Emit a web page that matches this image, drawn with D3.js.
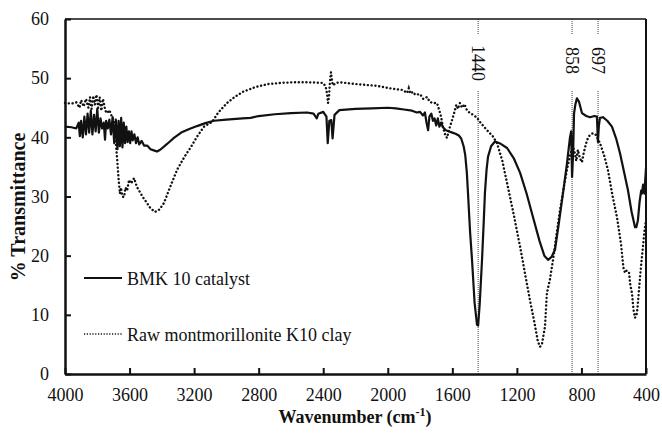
<!DOCTYPE html>
<html><head><meta charset="utf-8">
<script src="https://cdn.jsdelivr.net/npm/d3@7"></script>
<style>body{margin:0;background:#fff}svg{display:block}svg text{font-family:"Times New Roman","Liberation Serif","DejaVu Serif","Noto Serif",serif !important;fill:#111}</style>
</head><body><svg id="c" width="662" height="433"></svg>
<script>
const xTicks=[4000,3600,3200,2800,2400,2000,1600,1200,800,400];
const yTicks=[0,10,20,30,40,50,60];
const markers=[1440,858,697];
const seriesNames=["BMK 10 catalyst","Raw montmorillonite K10 clay"];
const bmk=[[4000,41.8],[3960,41.7],[3930,41.5],[3915,42.5],[3908,40.2],[3900,42.8],[3890,40],[3880,43.5],[3870,40.5],[3860,44],[3850,40.8],[3840,44.5],[3830,40.5],[3820,43.8],[3810,41],[3800,44.8],[3790,40.8],[3780,43.2],[3770,41.5],[3760,42.5],[3752,39.6],[3745,42.8],[3735,41.5],[3725,43],[3715,40.5],[3705,43.4],[3695,39],[3685,43],[3675,38],[3668,42.8],[3660,38.5],[3652,43.3],[3644,38.3],[3636,42.5],[3628,39],[3620,41.8],[3612,39.2],[3604,41],[3596,39],[3588,41],[3580,39.5],[3570,40.5],[3560,39],[3550,40],[3540,38.8],[3525,39.4],[3510,38.6],[3490,38.6],[3470,38],[3450,37.8],[3430,37.6],[3410,37.9],[3380,38.6],[3350,39.3],[3325,39.9],[3280,40.8],[3230,41.4],[3182,41.9],[3130,42.4],[3077,42.8],[3000,43],[2900,43.2],[2850,43.3],[2800,43.6],[2700,43.9],[2600,44.1],[2500,44.2],[2460,44],[2440,43.2],[2430,44],[2400,44.3],[2380,43.5],[2372,39],[2362,42.8],[2350,42.9],[2342,39.8],[2330,43.8],[2300,44.6],[2200,44.8],[2100,44.9],[2000,45],[1950,44.9],[1900,44.7],[1850,44.5],[1820,44.2],[1800,44.3],[1782,43.7],[1770,44.2],[1760,42.5],[1750,41.2],[1742,43.5],[1730,44],[1720,42.8],[1710,43.2],[1700,42],[1690,43.2],[1680,41.8],[1670,42.5],[1658,41.7],[1640,41.2],[1620,41],[1600,40.8],[1580,40.6],[1560,40.3],[1545,39.8],[1530,38.5],[1520,37],[1510,34],[1503,30.6],[1490,24],[1478,19.3],[1462,12],[1447,8.3],[1440,8.2],[1430,12],[1416,19.3],[1405,26],[1398,30.6],[1388,34.5],[1379,36.7],[1360,38.5],[1336,39.3],[1300,38.9],[1261,38.2],[1220,36.5],[1180,34],[1140,30.5],[1100,26.5],[1060,22.5],[1030,20],[1007,19.3],[985,19.8],[964,21],[940,25.5],[914,30.6],[890,35.5],[871,40],[864,41],[858,33.3],[852,37],[846,44],[838,45.5],[828,46.6],[815,46],[797,44.1],[770,43.6],[747,43.4],[720,43.6],[704,43.5],[698,39.2],[692,42],[685,43.3],[667,43.4],[640,42.8],[611,41.8],[585,39.8],[561,37.3],[535,34],[512,31.1],[490,27.5],[468,24.8],[460,24.8],[450,26],[440,29],[430,31],[425,30.5],[418,32],[410,30.5],[400,34.8]];
const clay=[[4000,45.8],[3960,45.7],[3930,45.9],[3910,45],[3900,46.3],[3885,45.2],[3870,46.5],[3855,45],[3845,46.8],[3835,44.8],[3825,47],[3815,45.5],[3805,47.2],[3795,45],[3785,46.8],[3775,44.5],[3765,46.5],[3750,44.5],[3740,44.1],[3725,44.6],[3710,43.5],[3697,42.9],[3688,40],[3678,36.7],[3668,33],[3660,30.5],[3653,31.5],[3645,30],[3634,29.9],[3625,31.5],[3615,31],[3603,32.8],[3590,32.2],[3572,33.1],[3554,31.6],[3520,30],[3492,28.9],[3470,28],[3442,27.4],[3415,27.8],[3387,28.9],[3350,31.5],[3306,34.5],[3260,36.7],[3219,38.4],[3180,40.2],[3139,41.8],[3089,42.6],[3050,44.2],[2996,45.8],[2950,46.8],[2897,47.7],[2820,48.5],[2742,49],[2660,49.2],[2587,49.3],[2500,49.3],[2401,49.2],[2385,48.6],[2377,47.5],[2370,45.8],[2364,47],[2358,49.5],[2352,51],[2345,49.5],[2340,48.8],[2320,49.2],[2296,49.3],[2200,49],[2067,48.7],[1990,48.3],[1940,48.1],[1906,48],[1880,47.5],[1870,48.3],[1860,47.4],[1844,47.7],[1830,47.2],[1800,47.3],[1780,46.5],[1757,46.8],[1740,46],[1720,45.8],[1695,45.8],[1680,44.5],[1670,43.5],[1658,41.7],[1645,40.5],[1633,39.9],[1618,41.5],[1602,42.9],[1590,44],[1575,45.5],[1565,44.8],[1553,45.8],[1540,45],[1525,45.6],[1510,44.6],[1491,44.1],[1470,43.8],[1447,43.3],[1420,42.3],[1385,41.2],[1350,40.2],[1323,39],[1290,36],[1261,32.3],[1220,27],[1180,21.5],[1150,17],[1119,12.5],[1090,8.5],[1070,5.5],[1057,4.6],[1045,5],[1026,8],[1014,13.7],[995,16],[976,19.3],[955,23.5],[933,27.7],[910,31.5],[890,34.5],[870,37],[852,38.4],[840,37.2],[832,36],[822,37.9],[810,36.5],[797,35.8],[785,37.5],[766,39.5],[750,40.3],[729,40.7],[710,40.4],[685,39],[660,37],[636,34.5],[610,30.5],[580,26.5],[555,22],[540,18],[530,17.1],[520,17.5],[505,17.1],[497,15],[487,13.7],[478,11],[468,9.5],[462,9.8],[456,10.3],[447,13],[437,16.4],[428,19],[419,21.5],[410,24],[400,26]];

const svg=d3.select("#c");
const L=65,R=646,T=19,B=374;
const x=d3.scaleLinear().domain([4000,400]).range([L,R]);
const y=d3.scaleLinear().domain([0,60]).range([B,T]);
const FONT='"Times New Roman","Liberation Serif","DejaVu Serif",serif';

markers.forEach(m=>{
  const mx=x(m);
  svg.append("line").attr("x1",mx).attr("x2",mx).attr("y1",T).attr("y2",35)
    .attr("stroke","#444").attr("stroke-width",1).attr("stroke-dasharray","1,1");
  svg.append("line").attr("x1",mx).attr("x2",mx).attr("y1",91).attr("y2",B)
    .attr("stroke","#444").attr("stroke-width",1).attr("stroke-dasharray","1,1");
  svg.append("text").attr("transform",`translate(${mx},${m===1440?45:47}) rotate(90)`)
    .attr("dominant-baseline","central").attr("font-family",FONT).attr("font-size",18).text(m);
});

const line=d3.line().x(d=>x(d[0])).y(d=>y(d[1]));
svg.append("path").datum(clay).attr("d",line).attr("fill","none").attr("stroke","#111")
  .attr("stroke-width",2.4).attr("stroke-linecap","round").attr("stroke-dasharray","0.1,3.7");
svg.append("path").datum(bmk).attr("d",line).attr("fill","none").attr("stroke","#111")
  .attr("stroke-width",2.2).attr("stroke-linejoin","round");

svg.append("line").attr("x1",L).attr("x2",R).attr("y1",T).attr("y2",T).attr("stroke","#111").attr("stroke-width",1.5);
svg.append("line").attr("x1",R).attr("x2",R).attr("y1",T).attr("y2",B).attr("stroke","#111").attr("stroke-width",2);

const xa=svg.append("g").attr("transform",`translate(0,${B})`)
  .call(d3.axisBottom(x).tickValues(xTicks).tickSizeInner(-6).tickSizeOuter(0).tickPadding(14).tickFormat(d3.format("d")));
const ya=svg.append("g").attr("transform",`translate(${L},0)`)
  .call(d3.axisLeft(y).tickValues(yTicks).tickSizeInner(-6).tickSizeOuter(0).tickPadding(16));
[xa,ya].forEach(a=>{
  a.attr("font-family",FONT).attr("font-size",18);
  a.select(".domain").attr("stroke","#111").attr("stroke-width",2.5);
  a.selectAll(".tick line").attr("stroke","#111").attr("stroke-width",2);
  a.selectAll(".tick text").attr("font-size",18).attr("font-family",FONT).attr("fill","#111");
});

svg.append("text").attr("x",355).attr("y",423).attr("text-anchor","middle").attr("font-family",FONT)
  .attr("font-size",18).attr("font-weight","bold")
  .html('Wavenumber (cm<tspan dy="-7" font-size="12">-1</tspan><tspan dy="7">)</tspan>');
svg.append("text").attr("transform","translate(25,207) rotate(-90)").attr("text-anchor","middle").attr("font-family",FONT)
  .attr("font-size",20).attr("font-weight","bold").text("% Transmittance");

svg.append("line").attr("x1",84).attr("x2",122).attr("y1",278).attr("y2",278).attr("stroke","#111").attr("stroke-width",2);
svg.append("text").attr("x",127).attr("y",285).attr("font-family",FONT).attr("font-size",18).text(seriesNames[0]);
svg.append("line").attr("x1",84).attr("x2",122).attr("y1",334).attr("y2",334).attr("stroke","#111").attr("stroke-width",1.3).attr("stroke-dasharray","1.2,1.6");
svg.append("text").attr("x",127).attr("y",341).attr("font-family",FONT).attr("font-size",18).text(seriesNames[1]);
</script></body></html>
